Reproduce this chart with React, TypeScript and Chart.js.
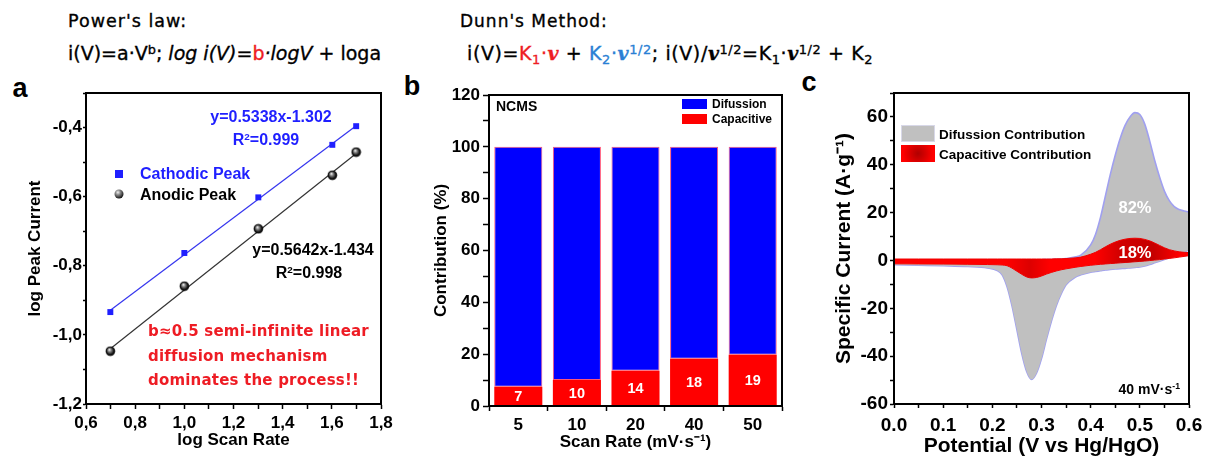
import React, { useEffect, useRef } from 'react';
import { Chart, registerables } from 'chart.js';
Chart.register(...registerables);

// ---------- Panel a: power law ----------
const logScanRate = [0.699, 1.0, 1.301, 1.602, 1.699];
const cathodicLogPeak = [-0.934, -0.763, -0.602, -0.45, -0.396];
const anodicLogPeak = [-1.047, -0.859, -0.693, -0.538, -0.471];
const fitRange = [0.699, 1.699];
const cathodicFit = [-0.929, -0.395];
const anodicFit = [-1.04, -0.475];

// ---------- Panel b: contribution bars ----------
const scanRates = ['5', '10', '20', '40', '50'];
const capacitivePct = [7.4, 10.0, 13.6, 18.2, 19.8];
const diffusionPct = [92.6, 90.0, 86.4, 81.8, 80.2];
const capacitiveLabels = ['7', '10', '14', '18', '19'];

// ---------- Panel c: CV separation at 40 mV/s ----------
const potential = [0, 0.05, 0.1, 0.15, 0.19, 0.21, 0.22, 0.23, 0.24, 0.25, 0.26, 0.27, 0.28, 0.29, 0.3, 0.31, 0.32, 0.33, 0.34, 0.35, 0.37, 0.38, 0.4, 0.41, 0.42, 0.43, 0.44, 0.45, 0.46, 0.47, 0.48, 0.49, 0.5, 0.51, 0.52, 0.53, 0.54, 0.55, 0.56, 0.57, 0.58, 0.59, 0.6];
const totalAnodic = [0.3, 0.3, 0.3, 0.3, 0.3, 0.3, 0.3, 0.3, 0.3, 0.3, 0.3, 0.3, 0.3, 0.3, 0.3, 0.4, 0.4, 0.5, 0.6, 0.8, 1.5, 2.2, 6.5, 11, 18, 27, 36, 44, 51, 56.5, 60, 61.8, 61, 57, 50, 42, 35, 29, 25, 22.5, 21.3, 20.7, 20.2];
const totalCathodic = [-1.8, -2.0, -2.2, -2.5, -3.1, -4.2, -6, -11, -19, -29, -39, -46.5, -49.7, -47, -41, -33, -25.5, -19, -14, -10.2, -6.8, -6.0, -4.9, -4.6, -4.3, -4.0, -3.8, -3.6, -3.4, -3.3, -3.1, -2.9, -2.7, -2.3, -1.7, -1.0, -0.3, 0.4, 1.1, 1.9, 2.7, 3.5, 4.5];
const capAnodic = [0.6, 0.6, 0.6, 0.6, 0.6, 0.6, 0.6, 0.6, 0.6, 0.6, 0.6, 0.6, 0.6, 0.6, 0.6, 0.6, 0.6, 0.7, 0.7, 0.8, 1.1, 1.4, 2.6, 3.4, 4.5, 5.7, 6.8, 7.7, 8.4, 8.9, 9.2, 9.3, 9.2, 8.8, 8.2, 7.3, 6.3, 5.3, 4.5, 4.0, 3.6, 3.4, 3.3];
const capCathodic = [-1.4, -1.45, -1.5, -1.6, -1.7, -1.8, -1.9, -2.2, -3.2, -4.5, -5.8, -6.9, -7.3, -7.1, -6.5, -5.7, -5.0, -4.4, -3.9, -3.5, -2.8, -2.5, -2.0, -1.8, -1.6, -1.45, -1.3, -1.15, -1.0, -0.85, -0.7, -0.55, -0.4, -0.25, -0.05, 0.15, 0.35, 0.6, 0.85, 1.1, 1.4, 1.7, 2.0];

const FONT = '"Liberation Sans", Arial, sans-serif';
const HEAD = '"DejaVu Sans", Verdana, sans-serif';

const framePlugin = {
  id: 'frame',
  afterDraw(chart: any) {
    const { ctx, chartArea: a } = chart;
    ctx.save();
    ctx.strokeStyle = '#000';
    ctx.lineWidth = 2;
    ctx.strokeRect(a.left, a.top, a.right - a.left, a.bottom - a.top);
    ctx.restore();
  },
};

const barLabelPlugin = {
  id: 'barLabels',
  afterDatasetsDraw(chart: any) {
    const { ctx } = chart;
    const meta = chart.getDatasetMeta(0);
    ctx.save();
    ctx.fillStyle = '#fff';
    ctx.font = `bold 14.5px ${FONT}`;
    ctx.textAlign = 'center';
    ctx.textBaseline = 'middle';
    meta.data.forEach((bar: any, i: number) => {
      const { x, y, base } = bar.getProps(['x', 'y', 'base'], true);
      ctx.fillText(capacitiveLabels[i], x, (y + base) / 2 + 1);
    });
    ctx.restore();
  },
};

function makeBall(r: number) {
  const c = document.createElement('canvas');
  const s = Math.ceil(r * 2 + 1);
  c.width = s;
  c.height = s;
  const g = c.getContext('2d')!;
  const grad = g.createRadialGradient(s * 0.4, s * 0.35, 0.3, s / 2, s / 2, r);
  grad.addColorStop(0, '#f0f0f0');
  grad.addColorStop(0.3, '#888');
  grad.addColorStop(0.75, '#111');
  grad.addColorStop(1, '#000');
  g.fillStyle = grad;
  g.beginPath();
  g.arc(s / 2, s / 2, r, 0, Math.PI * 2);
  g.fill();
  return c;
}

function yFit(w: number) {
  return (scale: any) => {
    scale.width = w;
    scale.paddingTop = 0;
    scale.paddingBottom = 0;
  };
}
function xFit(h: number) {
  return (scale: any) => {
    scale.height = h;
    scale.paddingLeft = 0;
    scale.paddingRight = 0;
  };
}

function axis(opts: any) {
  const { fit, min, max, step, cb, title, tickSize, titleSize, tickLen, pad, offset } = opts;
  const ticks: any = {
    autoSkip: false,
    maxRotation: 0,
    color: '#000',
    padding: pad,
    font: { family: FONT, size: tickSize, weight: 'bold' },
  };
  if (step !== undefined) ticks.stepSize = step;
  if (cb) ticks.callback = cb;
  const ax: any = {
    type: opts.type || 'linear',
    afterFit: fit,
    ticks,
    grid: {
      display: true,
      drawOnChartArea: false,
      drawTicks: true,
      tickLength: tickLen,
      tickColor: '#000',
      tickWidth: 1.5,
      offset: !!offset,
    },
    border: { display: true, color: '#000', width: 2 },
    title: {
      display: true,
      text: title,
      color: '#000',
      padding: 0,
      font: { family: FONT, size: titleSize, weight: 'bold' },
    },
  };
  if (min !== undefined) ax.min = min;
  if (max !== undefined) ax.max = max;
  if (opts.stacked) ax.stacked = true;
  return ax;
}

function configA() {
  const ball = makeBall(4.8);
  return {
    type: 'scatter',
    data: {
      datasets: [
        {
          label: 'Cathodic Peak',
          data: logScanRate.map((x, i) => ({ x, y: cathodicLogPeak[i] })),
          pointStyle: 'rect',
          pointRadius: 4.2,
          backgroundColor: '#1f1fff',
          borderColor: '#1f1fff',
          borderWidth: 0,
          order: 0,
        },
        {
          label: 'Anodic Peak',
          data: logScanRate.map((x, i) => ({ x, y: anodicLogPeak[i] })),
          pointStyle: ball,
          pointRadius: 5,
          order: 0,
        },
        {
          label: 'Cathodic fit',
          data: fitRange.map((x, i) => ({ x, y: cathodicFit[i] })),
          showLine: true,
          pointRadius: 0,
          borderColor: '#3535ee',
          borderWidth: 1.2,
          order: 1,
        },
        {
          label: 'Anodic fit',
          data: fitRange.map((x, i) => ({ x, y: anodicFit[i] })),
          showLine: true,
          pointRadius: 0,
          borderColor: '#333',
          borderWidth: 1.2,
          order: 1,
        },
      ],
    },
    options: {
      animation: false,
      responsive: false,
      layout: { padding: { top: 10, right: 16, left: 0, bottom: 0 } },
      plugins: { legend: { display: false }, tooltip: { enabled: false } },
      scales: {
        x: axis({
          fit: xFit(47), min: 0.6, max: 1.8, step: 0.1, tickSize: 17, titleSize: 17, tickLen: 5, pad: 4,
          cb: (v: number) => (Math.round(v * 10) % 2 === 0 ? v.toFixed(1).replace('.', ',') : ''),
          title: 'log Scan Rate',
        }),
        y: axis({
          fit: yFit(61), min: -1.2, max: -0.3, step: 0.1, tickSize: 17, titleSize: 17, tickLen: 3, pad: 1,
          cb: (v: number) => (Math.abs(Math.round(v * 10)) % 2 === 0 ? v.toFixed(1).replace('.', ',') : ''),
          title: 'log Peak Current',
        }),
      },
    },
    plugins: [framePlugin],
  };
}

function configB() {
  return {
    type: 'bar',
    data: {
      labels: scanRates,
      datasets: [
        {
          label: 'Capacitive',
          data: capacitivePct,
          backgroundColor: '#ff0000',
          borderColor: '#ff0000',
          borderWidth: 0,
          barPercentage: 0.82,
          categoryPercentage: 1,
        },
        {
          label: 'Difussion',
          data: diffusionPct,
          backgroundColor: '#0000ff',
          borderColor: '#ff5577',
          borderWidth: 1,
          borderSkipped: false,
          barPercentage: 0.82,
          categoryPercentage: 1,
        },
      ],
    },
    options: {
      animation: false,
      responsive: false,
      layout: { padding: { top: 10, right: 15, left: 0, bottom: 0 } },
      plugins: { legend: { display: false }, tooltip: { enabled: false } },
      scales: {
        x: axis({
          type: 'category', fit: xFit(47), tickSize: 17, titleSize: 17, tickLen: 5, pad: 4, offset: true, stacked: true,
          title: 'Scan Rate (mV·s⁻¹)',
        }),
        y: axis({
          fit: yFit(58), min: 0, max: 120, step: 10, tickSize: 17, titleSize: 17, tickLen: 6, pad: 3, stacked: true,
          cb: (v: number) => (v % 20 === 0 ? String(v) : ''),
          title: 'Contribution (%)',
        }),
      },
    },
    plugins: [framePlugin, barLabelPlugin],
  };
}

function capFill(context: any) {
  const chart = context.chart;
  const { ctx, chartArea, scales } = chart;
  if (!chartArea) return '#ff0000';
  const x0 = scales.x.getPixelForValue(potential[0]);
  const x1 = scales.x.getPixelForValue(potential[potential.length - 1]);
  const g = ctx.createLinearGradient(x0, 0, x1, 0);
  g.addColorStop(0, '#ff0000');
  g.addColorStop(0.38, '#ff0000');
  g.addColorStop(0.46, '#dd0000');
  g.addColorStop(0.53, '#ff0000');
  g.addColorStop(0.68, '#ff0000');
  g.addColorStop(0.77, '#d00000');
  g.addColorStop(0.88, '#c60000');
  g.addColorStop(0.97, '#ff0000');
  return g;
}

function configC() {
  const pts = (arr: number[]) => potential.map((x, i) => ({ x, y: arr[i] }));
  const last = potential.length - 1;
  return {
    type: 'line',
    data: {
      datasets: [
        {
          label: 'Capacitive (anodic)',
          data: pts(capAnodic),
          fill: '+1',
          backgroundColor: capFill,
          borderColor: '#ee0000',
          borderWidth: 1,
          pointRadius: 0,
          cubicInterpolationMode: 'monotone',
          order: 1,
        },
        {
          label: 'Capacitive (cathodic)',
          data: pts(capCathodic),
          fill: false,
          borderColor: '#ee0000',
          borderWidth: 1,
          pointRadius: 0,
          cubicInterpolationMode: 'monotone',
          order: 1,
        },
        {
          label: 'Total (anodic)',
          data: pts(totalAnodic),
          fill: '+1',
          backgroundColor: '#c0c0c0',
          borderColor: '#a0a0f0',
          borderWidth: 1.6,
          pointRadius: 0,
          cubicInterpolationMode: 'monotone',
          order: 2,
        },
        {
          label: 'Total (cathodic)',
          data: pts(totalCathodic),
          fill: false,
          borderColor: '#a0a0f0',
          borderWidth: 1.6,
          pointRadius: 0,
          cubicInterpolationMode: 'monotone',
          order: 2,
        },
        {
          label: 'Vertex',
          data: [
            { x: potential[last], y: totalCathodic[last] },
            { x: potential[last], y: totalAnodic[last] },
          ],
          fill: false,
          borderColor: '#a0a0f0',
          borderWidth: 1.6,
          pointRadius: 0,
          order: 2,
        },
      ],
    },
    options: {
      animation: false,
      responsive: false,
      layout: { padding: { top: 10, right: 19, left: 0, bottom: 0 } },
      plugins: { legend: { display: false }, tooltip: { enabled: false } },
      scales: {
        x: axis({
          fit: xFit(55), min: 0, max: 0.6, step: 0.05, tickSize: 19, titleSize: 21, tickLen: 4, pad: 6,
          cb: (v: number) => (Math.round(v * 100) % 10 === 0 ? v.toFixed(1) : ''),
          title: 'Potential (V vs Hg/HgO)',
        }),
        y: axis({
          fit: yFit(62), min: -60, max: 70, step: 10, tickSize: 19, titleSize: 21, tickLen: 4, pad: 2,
          cb: (v: number) => (v % 20 === 0 ? String(v) : ''),
          title: 'Specific Current (A·g⁻¹)',
        }),
      },
    },
    plugins: [framePlugin],
  };
}

function ChartBox({ left, top, width, height, make }: any) {
  const ref = useRef<HTMLCanvasElement>(null);
  useEffect(() => {
    const chart = new Chart(ref.current as any, make() as any);
    return () => chart.destroy();
  }, []);
  return (
    <canvas
      ref={ref}
      width={width}
      height={height}
      style={{ position: 'absolute', left, top, width, height }}
    />
  );
}

const abs = (x: number, y: number, extra: any = {}) => ({
  position: 'absolute' as const,
  left: x,
  top: y,
  whiteSpace: 'nowrap' as const,
  lineHeight: 1,
  ...extra,
});
const cen = { transform: 'translate(-50%, -50%)' };
const midL = { transform: 'translate(0, -50%)' };
const supS = { fontSize: '0.62em', position: 'relative' as const, top: '-0.55em' };
const supH = { fontSize: '0.68em', position: 'relative' as const, top: '-0.5em' };
const subS = { fontSize: '0.68em', position: 'relative' as const, top: '0.3em' };
const vS = { fontFamily: '"DejaVu Serif", serif', fontStyle: 'italic', fontWeight: 'bold' };

export default function App() {
  useEffect(() => {
    document.body.style.margin = '0';
  }, []);
  const red = '#ee1c24';
  const kblue = '#2a7fd4';
  const headStyle = { WebkitTextStroke: '0.35px #000' };
  return (
    <div style={{ position: 'absolute', left: 0, top: 0, width: 1208, height: 459, background: '#fff', overflow: 'hidden', fontFamily: FONT }}>
      {/* headings */}
      <div style={abs(68, 21, { ...midL, ...headStyle, font: `17.5px ${HEAD}`, letterSpacing: 1 })}>Power's law:</div>
      <div style={abs(68, 53, { ...midL, ...headStyle, font: `19px ${HEAD}` })}>
        i(V)=a·V<span style={supH}>b</span>; <i>log i(V)=</i>
        <span style={{ color: red, WebkitTextStroke: `0.35px ${red}` }}>b</span>
        <i>·logV</i> + loga
      </div>
      <div style={abs(460, 21, { ...midL, ...headStyle, font: `17px ${HEAD}`, letterSpacing: 1 })}>Dunn's Method:</div>
      <div style={abs(467, 53, { ...midL, ...headStyle, font: `19px ${HEAD}`, letterSpacing: 0.6 })}>
        i(V)=
        <span style={{ color: red, WebkitTextStroke: `0.35px ${red}` }}>
          K<span style={subS}>1</span>·<span style={vS}>v</span>
        </span>{' '}
        +{' '}
        <span style={{ color: kblue, WebkitTextStroke: `0.35px ${kblue}` }}>
          K<span style={subS}>2</span>·<span style={vS}>v</span>
          <span style={supH}>1/2</span>
        </span>
        ; i(V)/<span style={vS}>v</span>
        <span style={supH}>1/2</span>=K<span style={subS}>1</span>·<span style={vS}>v</span>
        <span style={supH}>1/2</span> + K<span style={subS}>2</span>
      </div>

      {/* panel letters */}
      <div style={abs(20, 88, { ...cen, font: `bold 27px ${FONT}` })}>a</div>
      <div style={abs(412, 86, { ...cen, font: `bold 27px ${FONT}` })}>b</div>
      <div style={abs(809, 82, { ...cen, font: `bold 27px ${FONT}` })}>c</div>

      <ChartBox left={25} top={83} width={372} height={368} make={configA} />
      <ChartBox left={431} top={85} width={366} height={368} make={configB} />
      <ChartBox left={832} top={83} width={376} height={376} make={configC} />

      {/* panel a annotations */}
      <div style={abs(271, 117, { ...cen, font: `bold 16px ${FONT}`, color: '#1f1fff' })}>y=0.5338x-1.302</div>
      <div style={abs(266, 140, { ...cen, font: `bold 16px ${FONT}`, color: '#1f1fff' })}>
        R<span style={supS}>2</span>=0.999
      </div>
      <div style={abs(119, 174, { ...cen, width: 8, height: 8, background: '#1f1fff' })} />
      <div style={abs(140, 174, { ...midL, font: `bold 16px ${FONT}`, color: '#1f1fff' })}>Cathodic Peak</div>
      <div
        style={abs(119, 194, {
          ...cen,
          width: 9,
          height: 9,
          borderRadius: '50%',
          background: 'radial-gradient(circle at 38% 32%, #f0f0f0 0%, #888 30%, #111 75%, #000 100%)',
        })}
      />
      <div style={abs(140, 195, { ...midL, font: `bold 16px ${FONT}`, color: '#000' })}>Anodic Peak</div>
      <div style={abs(313, 250, { ...cen, font: `bold 16px ${FONT}` })}>y=0.5642x-1.434</div>
      <div style={abs(309, 273, { ...cen, font: `bold 16px ${FONT}` })}>
        R<span style={supS}>2</span>=0.998
      </div>
      <div style={abs(148, 331, { ...midL, font: `bold 15px ${HEAD}`, letterSpacing: 0.2, color: red })}>b≈0.5 semi-infinite linear</div>
      <div style={abs(148, 356, { ...midL, font: `bold 15px ${HEAD}`, letterSpacing: 0.2, color: red })}>diffusion mechanism</div>
      <div style={abs(148, 380, { ...midL, font: `bold 15px ${HEAD}`, letterSpacing: 0.2, color: red })}>dominates the process!!</div>

      {/* panel b legend */}
      <div style={abs(496, 106, { ...midL, font: `bold 14px ${FONT}` })}>NCMS</div>
      <div style={abs(682, 99, { width: 25, height: 10, background: '#0000ff' })} />
      <div style={abs(712, 104, { ...midL, font: `bold 12px ${FONT}` })}>Difussion</div>
      <div style={abs(682, 114, { width: 25, height: 10, background: '#ff0000' })} />
      <div style={abs(712, 119, { ...midL, font: `bold 12px ${FONT}` })}>Capacitive</div>

      {/* panel c legend & labels */}
      <div style={abs(901, 125, { width: 34, height: 17, background: '#c0c0c0', boxSizing: 'border-box', border: '1px solid #d8d8e8' })} />
      <div style={abs(939, 134, { ...midL, font: `bold 13.5px ${FONT}` })}>Difussion Contribution</div>
      <div style={abs(901, 145, { width: 34, height: 17, background: 'radial-gradient(circle, #b00000 0%, #ff0000 80%)' })} />
      <div style={abs(939, 154, { ...midL, font: `bold 13.5px ${FONT}` })}>Capacitive Contribution</div>
      <div style={abs(1135, 207, { ...cen, font: `bold 16.5px ${FONT}`, color: '#fff' })}>82%</div>
      <div style={abs(1135, 252, { ...cen, font: `bold 16.5px ${FONT}`, color: '#fff' })}>18%</div>
      <div style={abs(1180, 389, { transform: 'translate(-100%, -50%)', font: `bold 14px ${FONT}` })}>
        40 mV·s<span style={supS}>-1</span>
      </div>
    </div>
  );
}
